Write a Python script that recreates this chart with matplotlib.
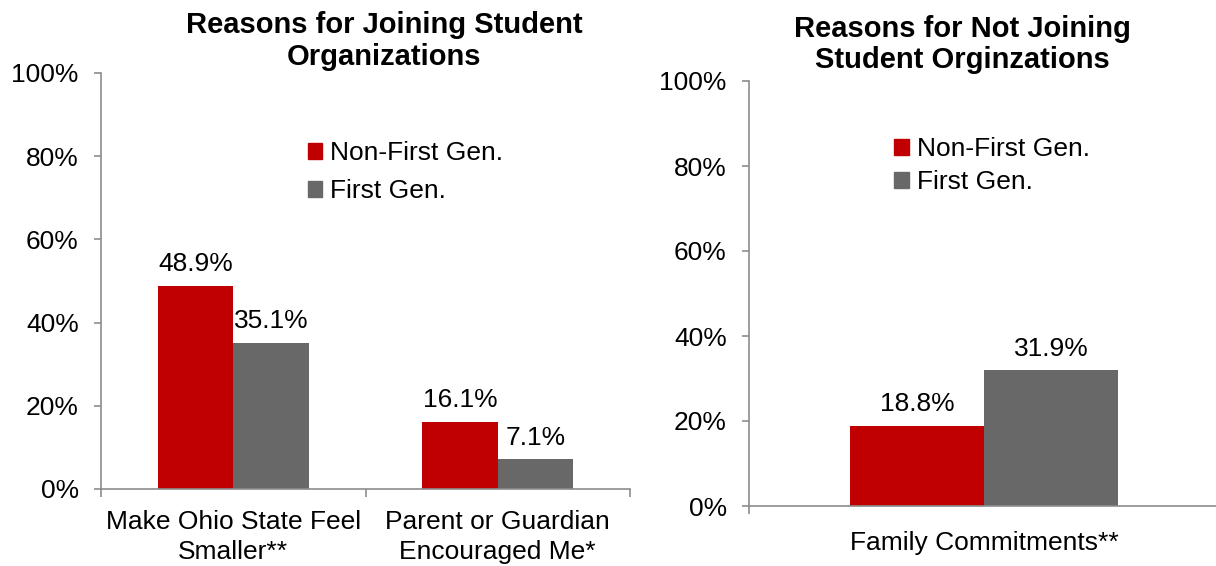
import matplotlib
matplotlib.use("Agg")
import matplotlib.pyplot as plt
import numpy as np
from matplotlib.patches import Patch

plt.rcParams['font.family'] = ['Liberation Sans', 'DejaVu Sans']

RED = "#C00000"
GRAY = "#686868"
SPINE = "#8C8C8C"

series_names = ["Non-First Gen.", "First Gen."]

join_title = "Reasons for Joining Student\nOrganizations"
join_categories = ["Make Ohio State Feel\nSmaller**", "Parent or Guardian\nEncouraged Me*"]
join_non_first = [48.9, 16.1]
join_first = [35.1, 7.1]

notjoin_title = "Reasons for Not Joining\nStudent Orginzations"
notjoin_categories = ["Family Commitments**"]
notjoin_non_first = [18.8]
notjoin_first = [31.9]

yticks = [0, 20, 40, 60, 80, 100]
FS = 19
TFS = 21
BAR_W = 0.285


def draw_panel(ax, title, categories, non_first, first, legend_anchor,
               title_x, title_pad, legend_gap, xlabel_pad):
    x = np.arange(len(categories))
    b1 = ax.bar(x - BAR_W / 2, non_first, BAR_W, color=RED)
    b2 = ax.bar(x + BAR_W / 2, first, BAR_W, color=GRAY)
    for bars, vals in ((b1, non_first), (b2, first)):
        for rect, v in zip(bars, vals):
            ax.annotate(f"{v:.1f}%", (rect.get_x() + rect.get_width() / 2, v),
                        xytext=(0, 7), textcoords="offset points",
                        ha="center", va="bottom", fontsize=FS)

    ax.set_ylim(0, 100)
    ax.set_xlim(-0.5, len(categories) - 0.5)
    ax.set_yticks(yticks)
    ax.set_yticklabels([f"{t}%" for t in yticks], fontsize=FS)
    ax.set_xticks(x)
    ax.set_xticklabels(categories, fontsize=FS, linespacing=1.3)
    ax.set_xticks(np.arange(len(categories) + 1) - 0.5, minor=True)
    ax.tick_params(axis="x", which="major", length=0, pad=xlabel_pad)
    ax.tick_params(axis="x", which="minor", length=6, color=SPINE, width=1.2)
    ax.tick_params(axis="y", length=5, color=SPINE, width=1.2, pad=11)

    for side in ("top", "right"):
        ax.spines[side].set_visible(False)
    for side in ("left", "bottom"):
        ax.spines[side].set_color(SPINE)
        ax.spines[side].set_linewidth(1.2)

    ax.set_title(title, fontsize=TFS, fontweight="bold", x=title_x, pad=title_pad,
                 linespacing=1.15)

    handles = [Patch(color=RED), Patch(color=GRAY)]
    ax.legend(handles, series_names, loc="upper left", bbox_to_anchor=legend_anchor,
              frameon=False, fontsize=FS, handlelength=0.55, handleheight=0.55,
              handletextpad=0.3, labelspacing=legend_gap, borderaxespad=0)


fig = plt.figure(figsize=(12.16, 5.66), dpi=100)

ax1 = fig.add_axes([101 / 1216, 1 - 489 / 566, 529 / 1216, 416 / 566])
draw_panel(ax1, join_title, join_categories, join_non_first, join_first,
           (0.371, 0.862), 0.535, 6, 0.55, 15)

ax2 = fig.add_axes([749 / 1216, 1 - 506 / 566, 470 / 1216, 425 / 566])
draw_panel(ax2, notjoin_title, notjoin_categories, notjoin_non_first, notjoin_first,
           (0.287, 0.893), 0.455, 9, 0.35, 18)

fig.savefig("out.png", dpi=100)
